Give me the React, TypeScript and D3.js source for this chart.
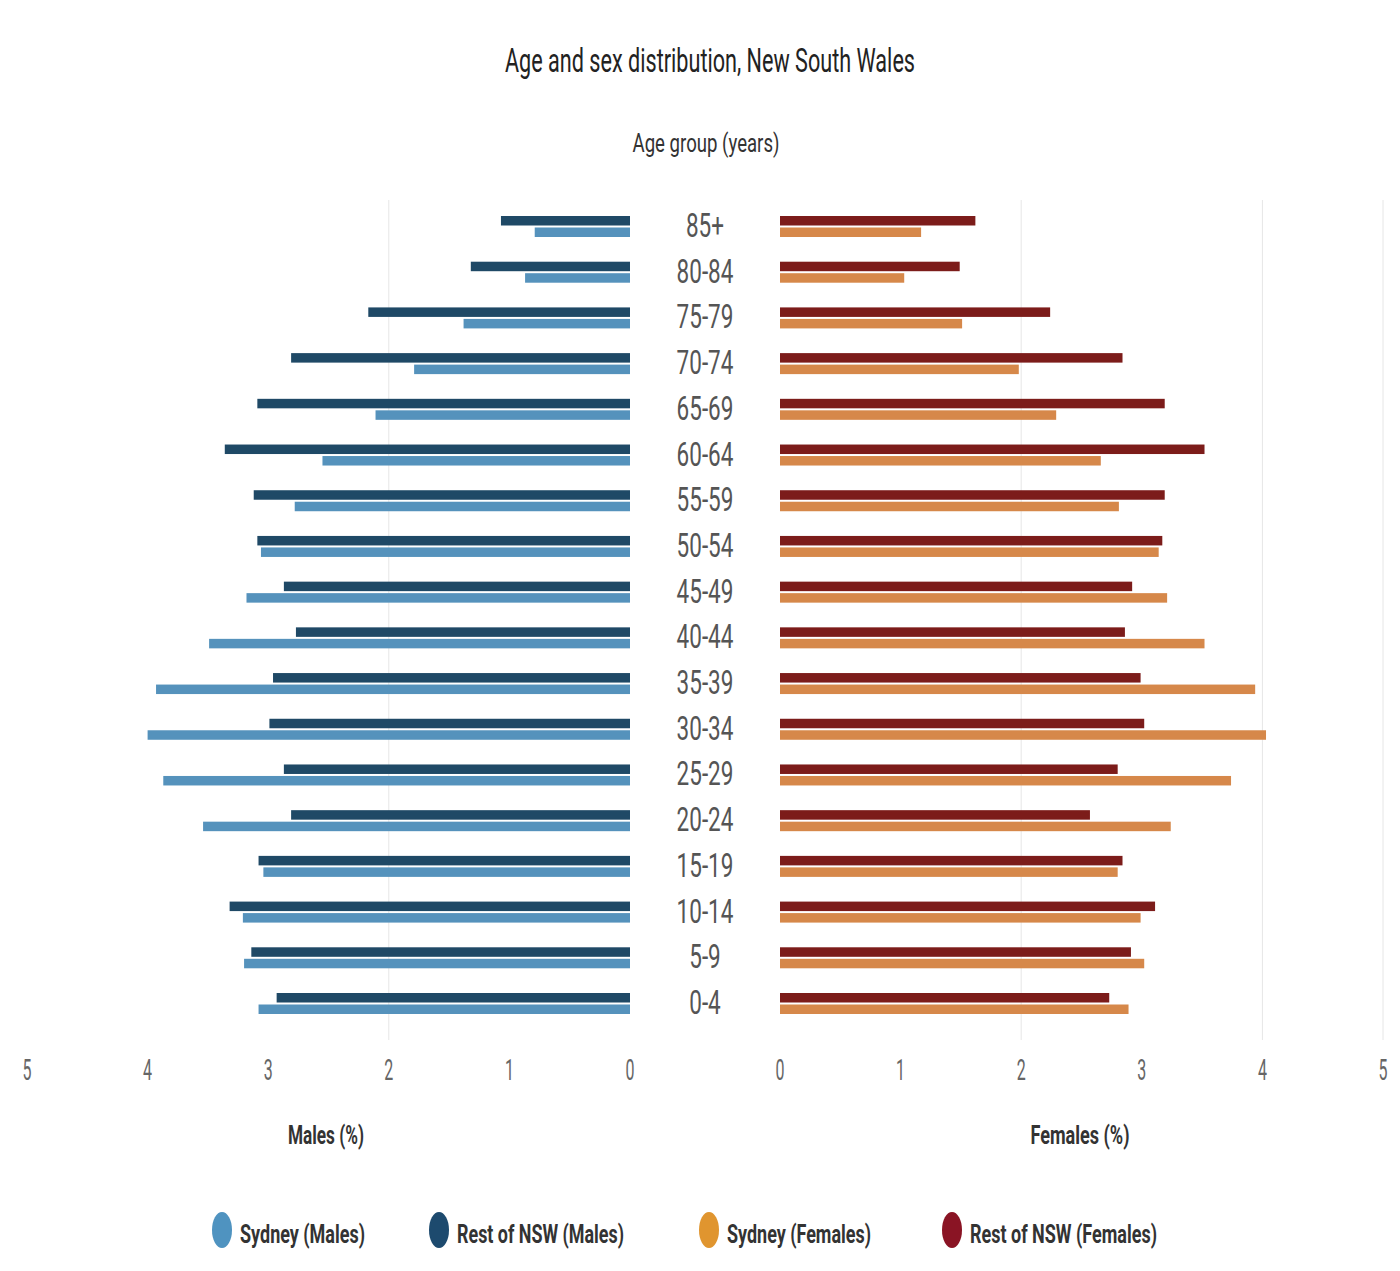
import React from "react";
import * as d3 from "d3";

const ageGroups = ["85+", "80-84", "75-79", "70-74", "65-69", "60-64", "55-59", "50-54", "45-49", "40-44", "35-39", "30-34", "25-29", "20-24", "15-19", "10-14", "5-9", "0-4"];
const sydneyMales = [0.79, 0.87, 1.38, 1.79, 2.11, 2.55, 2.78, 3.06, 3.18, 3.49, 3.93, 4.0, 3.87, 3.54, 3.04, 3.21, 3.2, 3.08];
const restMales = [1.07, 1.32, 2.17, 2.81, 3.09, 3.36, 3.12, 3.09, 2.87, 2.77, 2.96, 2.99, 2.87, 2.81, 3.08, 3.32, 3.14, 2.93];
const sydneyFemales = [1.17, 1.03, 1.51, 1.98, 2.29, 2.66, 2.81, 3.14, 3.21, 3.52, 3.94, 4.03, 3.74, 3.24, 2.8, 2.99, 3.02, 2.89];
const restFemales = [1.62, 1.49, 2.24, 2.84, 3.19, 3.52, 3.19, 3.17, 2.92, 2.86, 2.99, 3.02, 2.8, 2.57, 2.84, 3.11, 2.91, 2.73];
const tickValues = [0, 1, 2, 3, 4, 5];
const leftGridValues = [2];
const rightGridValues = [2, 4, 5];
const legendLabels = ["Sydney (Males)", "Rest of NSW (Males)", "Sydney (Females)", "Rest of NSW (Females)"];
const legendColors = ["#4f93c0", "#1d4a6e", "#e0952f", "#8a1424"];

const C_SYD_M = "#5592bc";
const C_REST_M = "#1f4966";
const C_SYD_F = "#d6884a";
const C_REST_F = "#7c1c1a";

type STProps = {
  x: number; y: number; text: string; size: number; sy: number; width?: number; sx?: number;
  anchor?: string; weight?: number | string; fill?: string;
};
function ST({ x, y, text, size, sy, width, sx = 1, anchor = "middle", weight = 400, fill = "#333" }: STProps) {
  return (
    <text
      transform={`translate(${x},${y}) scale(${sx},${sy})`}
      fontSize={size}
      fontFamily="Roboto, 'Liberation Sans', sans-serif"
      fontWeight={weight}
      textAnchor={anchor}
      fill={fill}
      {...(width ? { textLength: width / sx, lengthAdjust: "spacingAndGlyphs" } : {})}
    >
      {text}
    </text>
  );
}

export default function App() {
  const W = 1400, H = 1271;
  const y = d3.scalePoint<string>().domain(ageGroups).range([226, 1003]);
  const xL = d3.scaleLinear().domain([0, 5]).range([630, 27]);
  const xR = d3.scaleLinear().domain([0, 5]).range([780, 1383]);
  const barH = 9.5;
  const gridTop = 200, gridBot = 1040;

  return (
    <svg width={W} height={H} style={{ position: "absolute", left: 0, top: 0, background: "#fff" }}>
      <rect width={W} height={H} fill="#fff" />
      <ST x={710} y={72} text="Age and sex distribution, New South Wales" size={20} sy={1.7} width={410} fill="#222" />
      <ST x={706} y={152} text="Age group (years)" size={15} sy={1.7} width={147} fill="#333" />

      {leftGridValues.map((v) => (
        <line key={"gl" + v} x1={xL(v)} x2={xL(v)} y1={gridTop} y2={gridBot} stroke="#e6e6e6" strokeWidth={1} />
      ))}
      {rightGridValues.map((v) => (
        <line key={"gr" + v} x1={xR(v)} x2={xR(v)} y1={gridTop} y2={gridBot} stroke="#e6e6e6" strokeWidth={1} />
      ))}

      {ageGroups.map((a, i) => {
        const c = y(a)!;
        return (
          <g key={a}>
            <rect x={xL(restMales[i])} y={c - 10} width={xL(0) - xL(restMales[i])} height={barH} fill={C_REST_M} />
            <rect x={xL(sydneyMales[i])} y={c + 1.5} width={xL(0) - xL(sydneyMales[i])} height={barH} fill={C_SYD_M} />
            <rect x={xR(0)} y={c - 10} width={xR(restFemales[i]) - xR(0)} height={barH} fill={C_REST_F} />
            <rect x={xR(0)} y={c + 1.5} width={xR(sydneyFemales[i]) - xR(0)} height={barH} fill={C_SYD_F} />
            <ST x={705} y={c + 11} text={a} size={18} sx={1.25} sy={1.8} fill="#555" />
          </g>
        );
      })}

      {tickValues.map((v) => (
        <g key={"t" + v}>
          <ST x={xL(v)} y={1080} text={String(v)} size={16} sx={1.0} sy={1.8} fill="#666" />
          <ST x={xR(v)} y={1080} text={String(v)} size={16} sx={1.0} sy={1.8} fill="#666" />
        </g>
      ))}

      <ST x={326} y={1144} text="Males (%)" size={13} sy={2.0} width={76} weight={700} fill="#333" />
      <ST x={1080} y={1144} text="Females (%)" size={13} sy={2.0} width={99} weight={700} fill="#333" />

      {legendLabels.map((l, i) => {
        const cx = [222, 439, 709, 952][i];
        const tw = [125, 167, 144, 187][i];
        return (
          <g key={l}>
            <ellipse cx={cx} cy={1230} rx={10} ry={18} fill={legendColors[i]} />
            <ST x={cx + 18} y={1243} text={l} size={13} sy={2.0} width={tw} anchor="start" weight={700} fill="#333" />
          </g>
        );
      })}
    </svg>
  );
}
